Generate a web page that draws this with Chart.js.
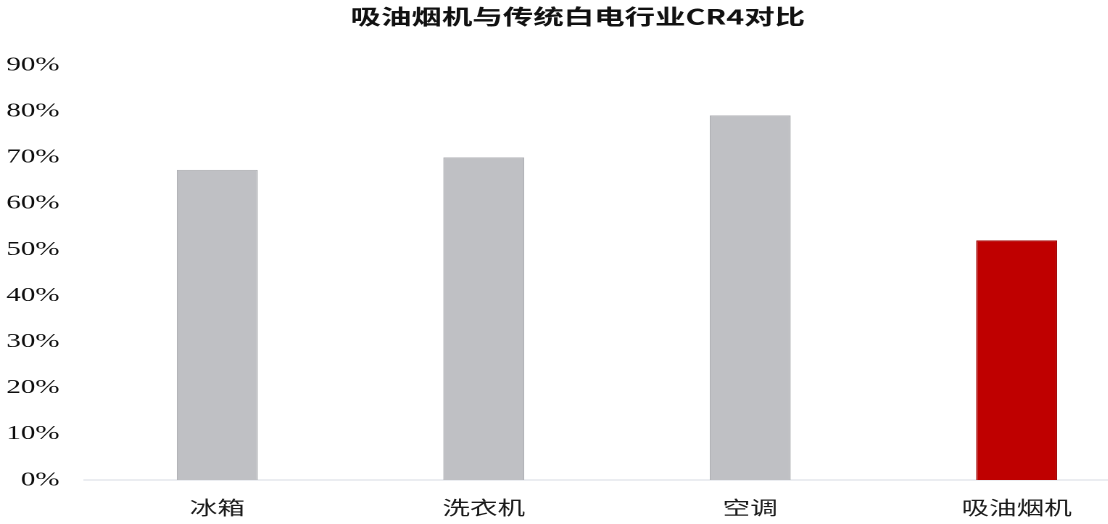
<!DOCTYPE html>
<html>
<head>
<meta charset="utf-8">
<script src="https://cdn.jsdelivr.net/npm/chart.js@4/dist/chart.umd.min.js"></script>
<style>
  html, body { margin: 0; padding: 0; background: #fff; overflow: hidden; }
  /* the source picture is stretched sideways, so the chart is drawn narrow and widened */
  #wrap { width: 800px; height: 524px; transform: scaleX(1.45); transform-origin: 0 0; }
</style>
</head>
<body>
<div id="wrap"><canvas id="grafico"></canvas></div>
<script>
// --- dados ---
const categorias = ['冰箱', '洗衣机', '空调', '吸油烟机'];
const cr4 = [67.3, 70.0, 79.1, 52.0];
const cores = ['#bfc0c4', '#bfc0c4', '#bfc0c4', '#bf0000'];
const bordas = ['#b1b2b6', '#b1b2b6', '#b1b2b6', '#a30000'];
const tituloTexto = '吸油烟机与传统白电行业CR4对比';
const yMax = 90;
const yPasso = 10;

const ctx = document.getElementById('grafico');

new Chart(ctx, {
    type: 'bar',
    data: {
        labels: categorias,
        datasets: [{
            data: cr4,
            backgroundColor: cores,
            borderColor: bordas,
            borderWidth: 1,
            barPercentage: 0.304,
            categoryPercentage: 1
        }]
    },
    options: {
        responsive: true,
        maintainAspectRatio: false,
        animation: false,
        devicePixelRatio: 2,
        layout: { padding: { left: 4, right: 7, top: 0, bottom: 4 } },
        plugins: {
            legend: { display: false },
            tooltip: { enabled: false },
            title: {
                display: true,
                text: tituloTexto,
                color: '#111',
                font: { family: '"Noto Sans CJK SC"', size: 21, weight: 'bold' },
                padding: { top: 4, bottom: 36 }
            }
        },
        scales: {
            y: {
                min: 0,
                max: yMax,
                grid: { display: false, drawTicks: false },
                border: { display: false },
                afterFit: s => { s.width = 54; },
                ticks: {
                    stepSize: yPasso,
                    padding: 17,
                    color: '#0d0d0d',
                    font: { family: '"Liberation Serif"', size: 20 },
                    callback: v => v + '%'
                }
            },
            x: {
                grid: { display: false, drawTicks: false },
                border: { display: true, color: '#d6dbe2', width: 1 },
                afterFit: s => { s.height = 40; },
                ticks: {
                    padding: 16,
                    color: '#1a1a1a',
                    font: { family: '"Noto Sans CJK SC"', size: 19 }
                }
            }
        }
    }
});
</script>
</body>
</html>
